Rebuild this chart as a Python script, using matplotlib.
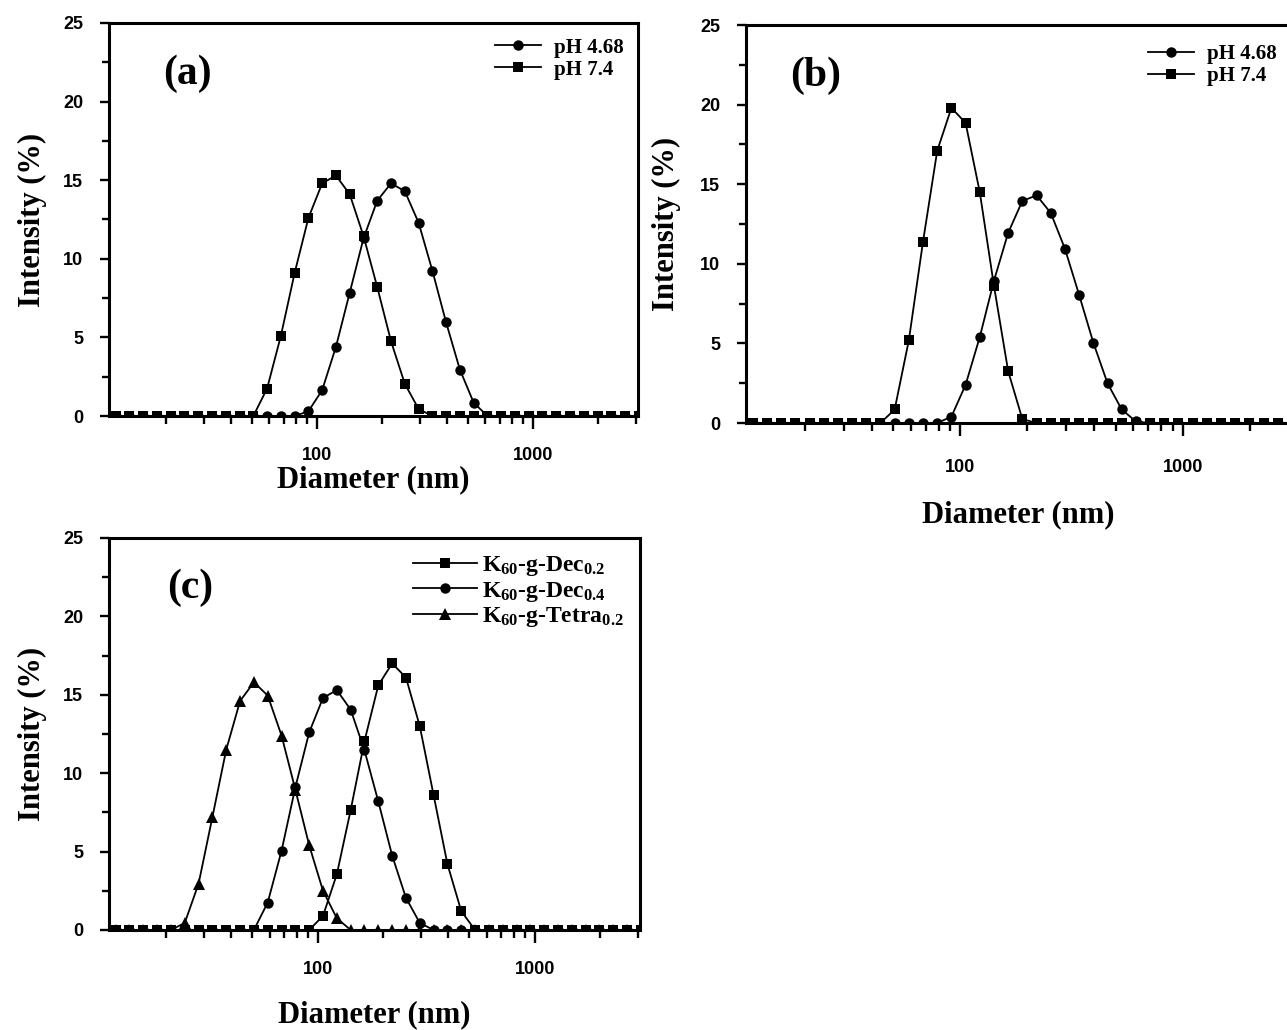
import numpy as np
import matplotlib
matplotlib.use("Agg")
import matplotlib.pyplot as plt
from matplotlib.ticker import FixedLocator, NullFormatter, FixedFormatter

plt.rcParams['font.family'] = ['Liberation Serif', 'DejaVu Serif']
plt.rcParams['font.weight'] = 'bold'
plt.rcParams['mathtext.fontset'] = 'custom'
plt.rcParams['mathtext.rm'] = 'Liberation Serif:bold'
plt.rcParams['mathtext.bf'] = 'Liberation Serif:bold'
plt.rcParams['mathtext.it'] = 'Liberation Serif:bold'

# size bins (nm) of the DLS instrument
sizes = [10.10, 11.70, 13.54, 15.69, 18.17, 21.04, 24.36, 28.21, 32.67, 37.84,
         43.82, 50.75, 58.77, 68.06, 78.82, 91.28, 105.7, 122.4, 141.8, 164.2,
         190.1, 220.2, 255.0, 295.3, 342.0, 396.1, 458.7, 531.2, 615.1, 712.4,
         825.0, 955.4, 1106, 1281, 1484, 1718, 1990, 2305, 2669, 3091]

# panel (a)
a_ph468_start = 91.28
a_ph468 = [0.3, 1.65, 4.4, 7.85, 11.3, 13.7, 14.8, 14.3, 12.3, 9.25, 5.95, 2.95, 0.85]
a_ph74_start = 58.77
a_ph74 = [1.75, 5.1, 9.1, 12.6, 14.8, 15.3, 14.1, 11.45, 8.2, 4.75, 2.05, 0.45]

# panel (b)
b_ph468_start = 91.28
b_ph468 = [0.4, 2.4, 5.4, 8.95, 11.95, 13.95, 14.3, 13.2, 10.95, 8.05, 5.05, 2.5, 0.85, 0.1]
b_ph74_start = 50.75
b_ph74 = [0.85, 5.2, 11.4, 17.1, 19.8, 18.85, 14.5, 8.6, 3.25, 0.25]

# panel (c)
c_dec02_start = 105.7
c_dec02 = [0.9, 3.55, 7.65, 12.05, 15.6, 17.0, 16.1, 13.0, 8.6, 4.2, 1.2]
c_dec04_start = 58.77
c_dec04 = [1.75, 5.05, 9.1, 12.6, 14.8, 15.3, 14.05, 11.45, 8.2, 4.75, 2.05, 0.45]
c_tetra_start = 24.36
c_tetra = [0.45, 2.95, 7.2, 11.5, 14.6, 15.8, 14.95, 12.4, 8.95, 5.4, 2.5, 0.75]

yticks = [0, 5, 10, 15, 20, 25]
xticks = [100, 1000]


def full(start, vals):
    # put the non-zero part into the whole bin range, rest is zero
    y = np.zeros(len(sizes))
    i = sizes.index(start)
    y[i:i + len(vals)] = vals
    return y


def style(ax, xpad, ypad, tpad=13):
    ax.set_xscale('log')
    ax.set_xlim(10.9, 3060)
    ax.set_ylim(0, 25)
    for s in ax.spines.values():
        s.set_linewidth(2.2)
    ax.xaxis.set_major_locator(FixedLocator(xticks))
    ax.xaxis.set_major_formatter(FixedFormatter([str(t) for t in xticks]))
    minors = [m * 10 ** d for d in range(1, 4) for m in range(2, 10)]
    ax.xaxis.set_minor_locator(FixedLocator(minors))
    ax.xaxis.set_minor_formatter(NullFormatter())
    ax.set_yticks(yticks)
    ax.set_yticks([2.5, 7.5, 12.5, 17.5, 22.5], minor=True)
    ax.tick_params(axis='x', which='major', direction='out', length=9, width=1.7, pad=tpad)
    ax.tick_params(axis='x', which='minor', direction='out', length=6, width=1.7)
    ax.tick_params(axis='y', which='major', direction='out', length=6.5, width=1.7, pad=12)
    ax.tick_params(axis='y', which='minor', direction='out', length=5, width=1.7)
    ax.tick_params(top=False, right=False, which='both')
    for lab in ax.get_xticklabels() + ax.get_yticklabels():
        lab.set_family(['Liberation Sans', 'DejaVu Sans'])
        lab.set_fontweight('bold')
        lab.set_fontsize(13)
    ax.set_xlabel('Diameter (nm)', fontsize=22, fontweight='bold', labelpad=xpad)
    ax.set_ylabel('Intensity (%)', fontsize=22, fontweight='bold', labelpad=ypad)


def series(ax, y, marker, label, ms):
    ax.plot(sizes, y, '-', color='black', lw=1.3, marker=marker, ms=ms,
            mfc='black', mec='black', mew=0, label=label)


fig = plt.figure(figsize=(12.87, 10.30), dpi=100)

ax1 = fig.add_axes([0.0847, 0.5961, 0.4110, 0.3816])
series(ax1, full(a_ph468_start, a_ph468), 'o', 'pH 4.68', 7.5)
series(ax1, full(a_ph74_start, a_ph74), 's', 'pH 7.4', 7.2)
style(ax1, 1, 12)
ax1.text(0.149, 0.872, '(a)', transform=ax1.transAxes, fontsize=30,
         fontweight='bold', ha='center', va='center')
ax1.legend(loc='upper right', bbox_to_anchor=(1.0, 1.0), frameon=False,
           fontsize=15, handlelength=2.2, numpoints=1, borderaxespad=0.3,
           handletextpad=0.6, labelspacing=0.1)

ax2 = fig.add_axes([0.5796, 0.5893, 0.4235, 0.3864])
series(ax2, full(b_ph468_start, b_ph468), 'o', 'pH 4.68', 7.5)
series(ax2, full(b_ph74_start, b_ph74), 's', 'pH 7.4', 7.2)
style(ax2, 17, 14, tpad=17)
ax2.text(0.127, 0.872, '(b)', transform=ax2.transAxes, fontsize=30,
         fontweight='bold', ha='center', va='center')
ax2.legend(loc='upper right', bbox_to_anchor=(1.0, 0.988), frameon=False,
           fontsize=15, handlelength=2.2, numpoints=1, borderaxespad=0.3,
           handletextpad=0.6, labelspacing=0.1)

ax3 = fig.add_axes([0.0847, 0.0971, 0.4126, 0.3806])
series(ax3, full(c_dec02_start, c_dec02), 's', r'K$_{60}$-g-Dec$_{0.2}$', 7.2)
series(ax3, full(c_dec04_start, c_dec04), 'o', r'K$_{60}$-g-Dec$_{0.4}$', 7.5)
series(ax3, full(c_tetra_start, c_tetra), '^', r'K$_{60}$-g-Tetra$_{0.2}$', 9)
style(ax3, 16, 12)
ax3.text(0.152, 0.872, '(c)', transform=ax3.transAxes, fontsize=30,
         fontweight='bold', ha='center', va='center')
ax3.legend(loc='upper right', bbox_to_anchor=(1.0, 1.0), frameon=False,
           fontsize=17, handlelength=2.7, numpoints=1, borderaxespad=0.3,
           handletextpad=0.2, labelspacing=0.05)

fig.savefig('out.png', dpi=100)
